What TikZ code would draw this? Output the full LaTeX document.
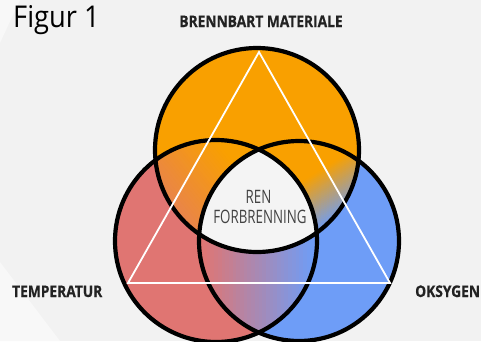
\documentclass[tikz,border=0pt]{standalone}
\usepackage{fontspec}
\newfontfamily\figfont{Open Sans}[FakeStretch=0.91]
\newfontfamily\labfont{Open Sans}[FakeStretch=0.86, FakeBold=0.5]
\newfontfamily\cenfont{Open Sans}[FakeStretch=0.72]
\definecolor{bg}{HTML}{F2F2F2}
\definecolor{bglight}{HTML}{F8F8F8}
\definecolor{ctr}{HTML}{F4F4F4}
\definecolor{orgC}{HTML}{F9A000}
\definecolor{redC}{HTML}{E07572}
\definecolor{bluC}{HTML}{6E9DF7}
\definecolor{txt}{HTML}{222222}
% linear gradient from point (#1,#2) colour #5 to point (#3,#4) colour #6, in picture units
\newcommand\lensgrad[6]{%
  \pgfmathsetmacro\lgdx{#3-#1}\pgfmathsetmacro\lgdy{#4-#2}%
  \pgfmathsetmacro\lglen{veclen(\lgdx,\lgdy)}%
  \pgfmathsetmacro\lgnx{-\lgdy/\lglen*300}\pgfmathsetmacro\lgny{\lgdx/\lglen*300}%
  \fill[#5] (0,0) rectangle (481,341);
  \fill[#6] ({#1+\lgdx+\lgnx},{#2+\lgdy+\lgny}) -- ({#1+\lgdx-\lgnx},{#2+\lgdy-\lgny})
     -- ({#1+10*\lgdx-\lgnx},{#2+10*\lgdy-\lgny}) -- ({#1+10*\lgdx+\lgnx},{#2+10*\lgdy+\lgny}) -- cycle;
  \foreach \k in {0,...,29}{%
    \pgfmathsetmacro\ta{\k/30}%
    \pgfmathsetmacro\tb{(\k+1.15)/30}%
    \pgfmathtruncatemacro\pc{100*(1-(\k+0.5)/30)}%
    \fill[#5!\pc!#6] ({#1+\ta*\lgdx+\lgnx},{#2+\ta*\lgdy+\lgny}) -- ({#1+\ta*\lgdx-\lgnx},{#2+\ta*\lgdy-\lgny})
       -- ({#1+\tb*\lgdx-\lgnx},{#2+\tb*\lgdy-\lgny}) -- ({#1+\tb*\lgdx+\lgnx},{#2+\tb*\lgdy+\lgny}) -- cycle;
  }%
}
\begin{document}
\begin{tikzpicture}[x=1pt,y=-1pt,
  ring/.style={draw=black,line width=4.2pt},
  tri/.style={draw=white,line width=1.8pt,line join=miter},
  lab/.style={inner sep=0pt,text=txt,font=\labfont\bfseries\fontsize{16}{18}\selectfont},
  cen/.style={inner sep=0pt,text=txt!85,font=\cenfont\fontsize{18.5}{20}\selectfont}]
% background
\fill[bg] (0,0) rectangle (481,341);
\fill[bglight] (0,0) -- (20,0) -- (0,43) -- cycle;
\fill[bglight] (0,262) -- (60,341) -- (0,341) -- cycle;
\useasboundingbox (0,0) rectangle (481,341);
\clip (0,0) rectangle (481,341);
% centres
\coordinate (cT) at (257,150);
\coordinate (cL) at (216,241);
\coordinate (cR) at (299,241);
% circle fills
\fill[orgC] (cT) circle[radius=102pt];
\fill[redC] (cL) circle[radius=101pt];
\fill[bluC] (cR) circle[radius=100pt];
% top-left overlap
\begin{scope}
  \clip (cT) circle[radius=102pt];
  \clip (cL) circle[radius=101pt];
  \lensgrad{235}{165}{168}{218}{orgC}{redC!75!orgC}
\end{scope}
% top-right overlap
\begin{scope}
  \clip (cT) circle[radius=102pt];
  \clip (cR) circle[radius=100pt];
  \lensgrad{313}{175}{340}{218}{orgC}{bluC}
\end{scope}
% bottom overlap
\begin{scope}
  \clip (cL) circle[radius=101pt];
  \clip (cR) circle[radius=100pt];
  \lensgrad{203}{280}{314}{280}{redC}{bluC}
\end{scope}
% centre
\begin{scope}
  \clip (cT) circle[radius=102pt];
  \clip (cL) circle[radius=101pt];
  \fill[ctr] (cR) circle[radius=100pt];
\end{scope}
% outlines
\draw[ring] (cT) circle[radius=102pt];
\draw[ring] (cL) circle[radius=101pt];
\draw[ring] (cR) circle[radius=100pt];
% triangle
\coordinate (tA) at (259,52);
\coordinate (tB) at (128,283);
\coordinate (tC) at (390,283);
\draw[tri] (tA) -- (tB) -- (tC) -- cycle;
% texts
\node[anchor=base west,inner sep=0pt,text=black,font=\figfont\fontsize{30}{32}\selectfont] (fig) at (13,27) {Figur 1};
\node[lab,anchor=base] (brenn) at (261,27) {BRENNBART MATERIALE};
\node[lab,anchor=base west] (temp) at (12,297) {TEMPERATUR};
\node[lab,anchor=base west] (oks) at (415,297) {OKSYGEN};
\node[cen,anchor=base] (ren) at (258.5,203) {REN};
\node[cen,anchor=base] (forb) at (260,223) {FORBRENNING};
\end{tikzpicture}
\end{document}
